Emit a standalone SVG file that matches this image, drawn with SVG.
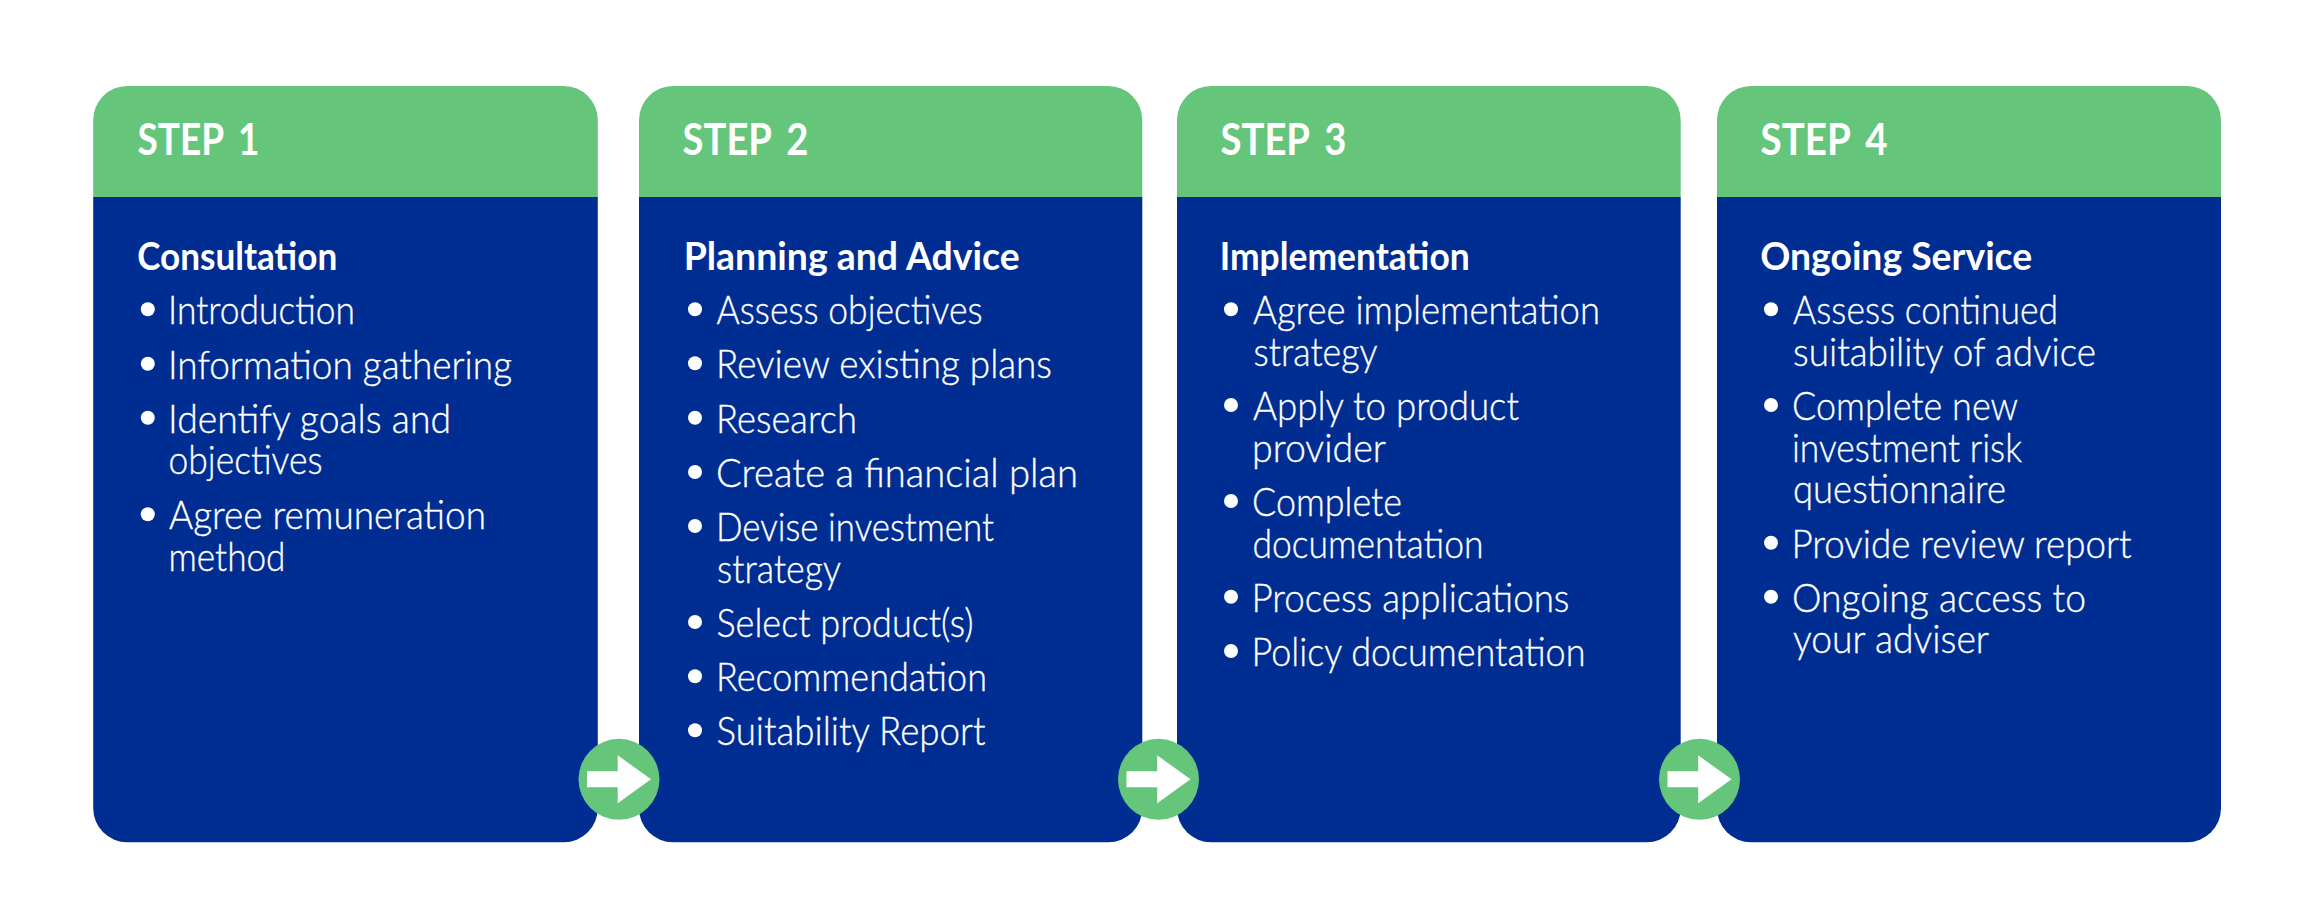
<svg xmlns="http://www.w3.org/2000/svg" width="2299" height="919" viewBox="0 0 2299 919">
<style>
text{font-family:"Lato","Liberation Sans",sans-serif;fill:#fff}
.h{fill:#65C67B}
.b{fill:#002D92}
.step{font-size:44px;font-weight:700;word-spacing:7px;transform:translate(1.5px,0)}
.title{font-size:39px;font-weight:700;transform:translate(1.2px,1px)}
.li{font-size:39.5px;font-weight:300;stroke:#fff;stroke-width:.35px;transform:translate(0,1px)}
.dot{fill:#fff}
.ring{fill:#65C67B}
.arrow{fill:#fff}
</style>
<defs>
<g id="hop"><circle class="ring" r="40.5"/><path class="arrow" d="M-32-8H-1.3V-24L32 0-1.3 24V8H-32Z"/></g>
</defs>
<rect width="2299" height="919" fill="#fff"/>
<g id="step-1">
<path class="h" d="M93.2 197V120A34 34 0 0 1 127.200 86H563.800A34 34 0 0 1 597.800 120V197Z"/>
<path class="b" d="M93.2 197H597.800V808.300A34 34 0 0 1 563.800 842.300H127.200A34 34 0 0 1 93.2 808.300Z"/>
<text class="step" x="136" y="155" textLength="122" lengthAdjust="spacingAndGlyphs">STEP 1</text>
<text class="title" x="136" y="269" textLength="200" lengthAdjust="spacingAndGlyphs">Consultation</text>
<circle class="dot" cx="147.800" cy="309.300" r="7"/>
<text class="li" x="168" y="323.300" textLength="187" lengthAdjust="spacingAndGlyphs">Introduction</text>
<circle class="dot" cx="147.800" cy="363.700" r="7"/>
<text class="li" x="168" y="377.700" textLength="344" lengthAdjust="spacingAndGlyphs">Information gathering</text>
<circle class="dot" cx="147.800" cy="417.700" r="7"/>
<text class="li" x="168" y="431.700" textLength="283" lengthAdjust="spacingAndGlyphs">Identify goals and</text>
<text class="li" x="168.500" y="473.300" textLength="154" lengthAdjust="spacingAndGlyphs">objectives</text>
<circle class="dot" cx="147.800" cy="514.300" r="7"/>
<text class="li" x="169" y="528.300" textLength="317" lengthAdjust="spacingAndGlyphs">Agree remuneration</text>
<text class="li" x="168.500" y="569.500" textLength="117" lengthAdjust="spacingAndGlyphs">method</text>
</g>
<g id="step-2">
<path class="h" d="M639 197V120A34 34 0 0 1 673 86H1108.300A34 34 0 0 1 1142.300 120V197Z"/>
<path class="b" d="M639 197H1142.300V808.300A34 34 0 0 1 1108.300 842.300H673A34 34 0 0 1 639 808.300Z"/>
<text class="step" x="681" y="155" textLength="126" lengthAdjust="spacingAndGlyphs">STEP 2</text>
<text class="title" x="682.500" y="269" textLength="336" lengthAdjust="spacingAndGlyphs">Planning and Advice</text>
<circle class="dot" cx="695" cy="309.300" r="7"/>
<text class="li" x="716.500" y="323.300" textLength="266" lengthAdjust="spacingAndGlyphs">Assess objectives</text>
<circle class="dot" cx="695" cy="363.300" r="7"/>
<text class="li" x="716" y="377.300" textLength="336" lengthAdjust="spacingAndGlyphs">Review existing plans</text>
<circle class="dot" cx="695" cy="417.700" r="7"/>
<text class="li" x="716" y="431.700" textLength="141" lengthAdjust="spacingAndGlyphs">Research</text>
<circle class="dot" cx="695" cy="472" r="7"/>
<text class="li" x="716" y="486" textLength="362" lengthAdjust="spacingAndGlyphs">Create a financial plan</text>
<circle class="dot" cx="695" cy="526" r="7"/>
<text class="li" x="716" y="540" textLength="278" lengthAdjust="spacingAndGlyphs">Devise investment</text>
<text class="li" x="717" y="581.700" textLength="124" lengthAdjust="spacingAndGlyphs">strategy</text>
<circle class="dot" cx="695" cy="622" r="7"/>
<text class="li" x="716.500" y="636" textLength="257" lengthAdjust="spacingAndGlyphs">Select product(s)</text>
<circle class="dot" cx="695" cy="676.300" r="7"/>
<text class="li" x="716" y="690.300" textLength="271" lengthAdjust="spacingAndGlyphs">Recommendation</text>
<circle class="dot" cx="695" cy="730.300" r="7"/>
<text class="li" x="716.500" y="744.300" textLength="269" lengthAdjust="spacingAndGlyphs">Suitability Report</text>
</g>
<g id="step-3">
<path class="h" d="M1177 197V120A34 34 0 0 1 1211 86H1646.700A34 34 0 0 1 1680.700 120V197Z"/>
<path class="b" d="M1177 197H1680.700V808.300A34 34 0 0 1 1646.700 842.300H1211A34 34 0 0 1 1177 808.300Z"/>
<text class="step" x="1219" y="155" textLength="126" lengthAdjust="spacingAndGlyphs">STEP 3</text>
<text class="title" x="1218.500" y="269" textLength="250" lengthAdjust="spacingAndGlyphs">Implementation</text>
<circle class="dot" cx="1231" cy="309.300" r="7"/>
<text class="li" x="1253" y="323.300" textLength="347" lengthAdjust="spacingAndGlyphs">Agree implementation</text>
<text class="li" x="1253.500" y="365" textLength="124" lengthAdjust="spacingAndGlyphs">strategy</text>
<circle class="dot" cx="1231" cy="405" r="7"/>
<text class="li" x="1253" y="419" textLength="266" lengthAdjust="spacingAndGlyphs">Apply to product</text>
<text class="li" x="1252" y="460.700" textLength="134" lengthAdjust="spacingAndGlyphs">provider</text>
<circle class="dot" cx="1231" cy="501" r="7"/>
<text class="li" x="1252" y="515" textLength="150" lengthAdjust="spacingAndGlyphs">Complete</text>
<text class="li" x="1252.500" y="556.700" textLength="231" lengthAdjust="spacingAndGlyphs">documentation</text>
<circle class="dot" cx="1231" cy="596.700" r="7"/>
<text class="li" x="1251.500" y="610.700" textLength="318" lengthAdjust="spacingAndGlyphs">Process applications</text>
<circle class="dot" cx="1231" cy="651" r="7"/>
<text class="li" x="1251.500" y="665" textLength="334" lengthAdjust="spacingAndGlyphs">Policy documentation</text>
</g>
<g id="step-4">
<path class="h" d="M1717 197V120A34 34 0 0 1 1751 86H2187A34 34 0 0 1 2221 120V197Z"/>
<path class="b" d="M1717 197H2221V808.300A34 34 0 0 1 2187 842.300H1751A34 34 0 0 1 1717 808.300Z"/>
<text class="step" x="1759" y="155" textLength="127" lengthAdjust="spacingAndGlyphs">STEP 4</text>
<text class="title" x="1759" y="269" textLength="272" lengthAdjust="spacingAndGlyphs">Ongoing Service</text>
<circle class="dot" cx="1771" cy="309.300" r="7"/>
<text class="li" x="1793" y="323.300" textLength="265" lengthAdjust="spacingAndGlyphs">Assess continued</text>
<text class="li" x="1793" y="365" textLength="303" lengthAdjust="spacingAndGlyphs">suitability of advice</text>
<circle class="dot" cx="1771" cy="405" r="7"/>
<text class="li" x="1792" y="419" textLength="226" lengthAdjust="spacingAndGlyphs">Complete new</text>
<text class="li" x="1792" y="460.700" textLength="230" lengthAdjust="spacingAndGlyphs">investment risk</text>
<text class="li" x="1793" y="502.300" textLength="213" lengthAdjust="spacingAndGlyphs">questionnaire</text>
<circle class="dot" cx="1771" cy="542.700" r="7"/>
<text class="li" x="1791.500" y="556.700" textLength="340" lengthAdjust="spacingAndGlyphs">Provide review report</text>
<circle class="dot" cx="1771" cy="596.700" r="7"/>
<text class="li" x="1792" y="610.700" textLength="294" lengthAdjust="spacingAndGlyphs">Ongoing access to</text>
<text class="li" x="1793" y="652.300" textLength="196" lengthAdjust="spacingAndGlyphs">your adviser</text>
</g>
<g id="connectors">
<use href="#hop" x="619" y="779.300"/>
<use href="#hop" x="1158.500" y="779.300"/>
<use href="#hop" x="1699.500" y="779.300"/>
</g>
</svg>
